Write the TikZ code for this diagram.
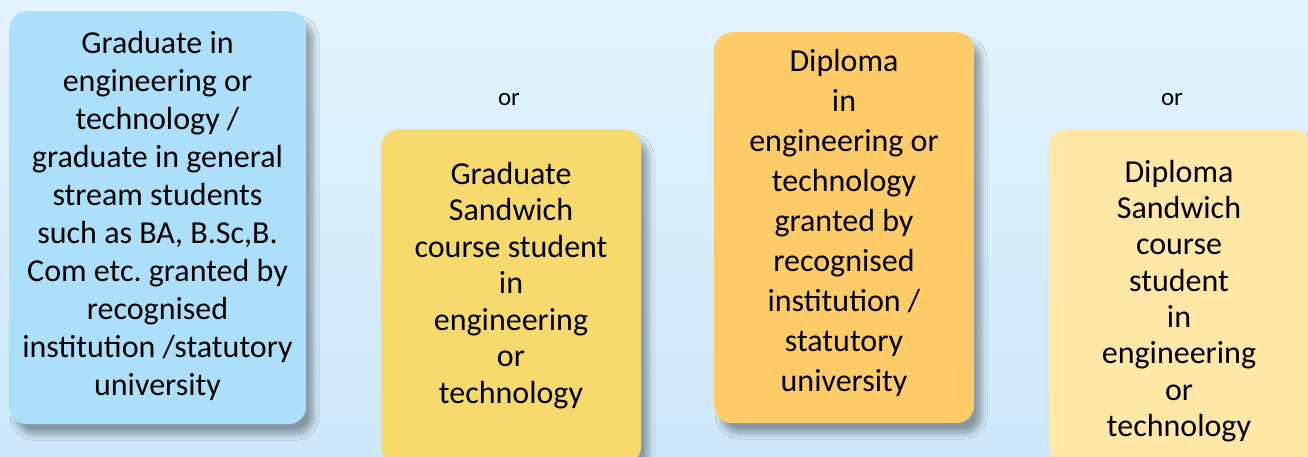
\documentclass[tikz,border=0pt]{standalone}
\usepackage{fontspec}
\setmainfont{Carlito}
\frenchspacing
\usetikzlibrary{shadows.blur}
\definecolor{bgtop}{HTML}{E2F3FC}
\definecolor{bgbottom}{HTML}{CCE8F9}
\definecolor{gradblue}{HTML}{ACE0FA}
\definecolor{sandyellow}{HTML}{F6DA6D}
\definecolor{diplorange}{HTML}{FECB69}
\definecolor{paleyellow}{HTML}{FFE7A6}
\tikzset{
  qualbox/.style={rounded corners=18pt, draw=none, anchor=north west, inner sep=0pt,
    blur shadow={shadow xshift=7pt, shadow yshift=-10pt, shadow blur radius=6pt,
      shadow blur steps=10, shadow opacity=35}},
  qualtext/.style={align=center, inner sep=0pt, font=\fontsize{32}{38}\selectfont},
  ortext/.style={inner sep=0pt, font=\fontsize{25}{28}\selectfont}
}
\begin{document}
\begin{tikzpicture}[x=1pt, y=-1pt]
  \useasboundingbox (0,0) rectangle (1308,456);
  \clip (0,0) rectangle (1308,456);
  \shade[top color=bgtop, bottom color=bgbottom] (0,0) rectangle (1308,456);
  % the four boxes
  \node[qualbox, fill=gradblue, minimum width=297pt, minimum height=413pt] (grad) at (9,11) {};
  \node[qualbox, fill=sandyellow, minimum width=260pt, minimum height=335pt] (gradsw) at (381,129) {};
  \node[qualbox, fill=diplorange, minimum width=260pt, minimum height=391pt] (dipl) at (714,32) {};
  \node[qualbox, fill=paleyellow, minimum width=262pt, minimum height=335pt] (diplsw) at (1049,129) {};
  % texts
  \node[qualtext] (gradtxt) at (157.5,216) {Graduate in\\ engineering or\\ technology /\\ graduate in general\\ stream students\\ such as BA, B.Sc,B.\\ Com etc. granted by\\ recognised\\ institution /statutory\\ university};
  \node[qualtext, font=\fontsize{32}{36.5}\selectfont] (gradswtxt) at (511,285.5) {Graduate\\ Sandwich\\ course student\\ in\\ engineering\\ or\\ technology};
  \node[qualtext, font=\fontsize{32}{40}\selectfont] (dipltxt) at (844,223) {Diploma\\ in\\ engineering or\\ technology\\ granted by\\ recognised\\ institution /\\ statutory\\ university};
  \node[qualtext, font=\fontsize{32}{36.3}\selectfont] (diplswtxt) at (1179,301) {Diploma\\ Sandwich\\ course\\ student\\ in\\ engineering\\ or\\ technology};
  \node[ortext] (or1) at (509,100) {or};
  \node[ortext] (or2) at (1172,100) {or};
\end{tikzpicture}
\end{document}
